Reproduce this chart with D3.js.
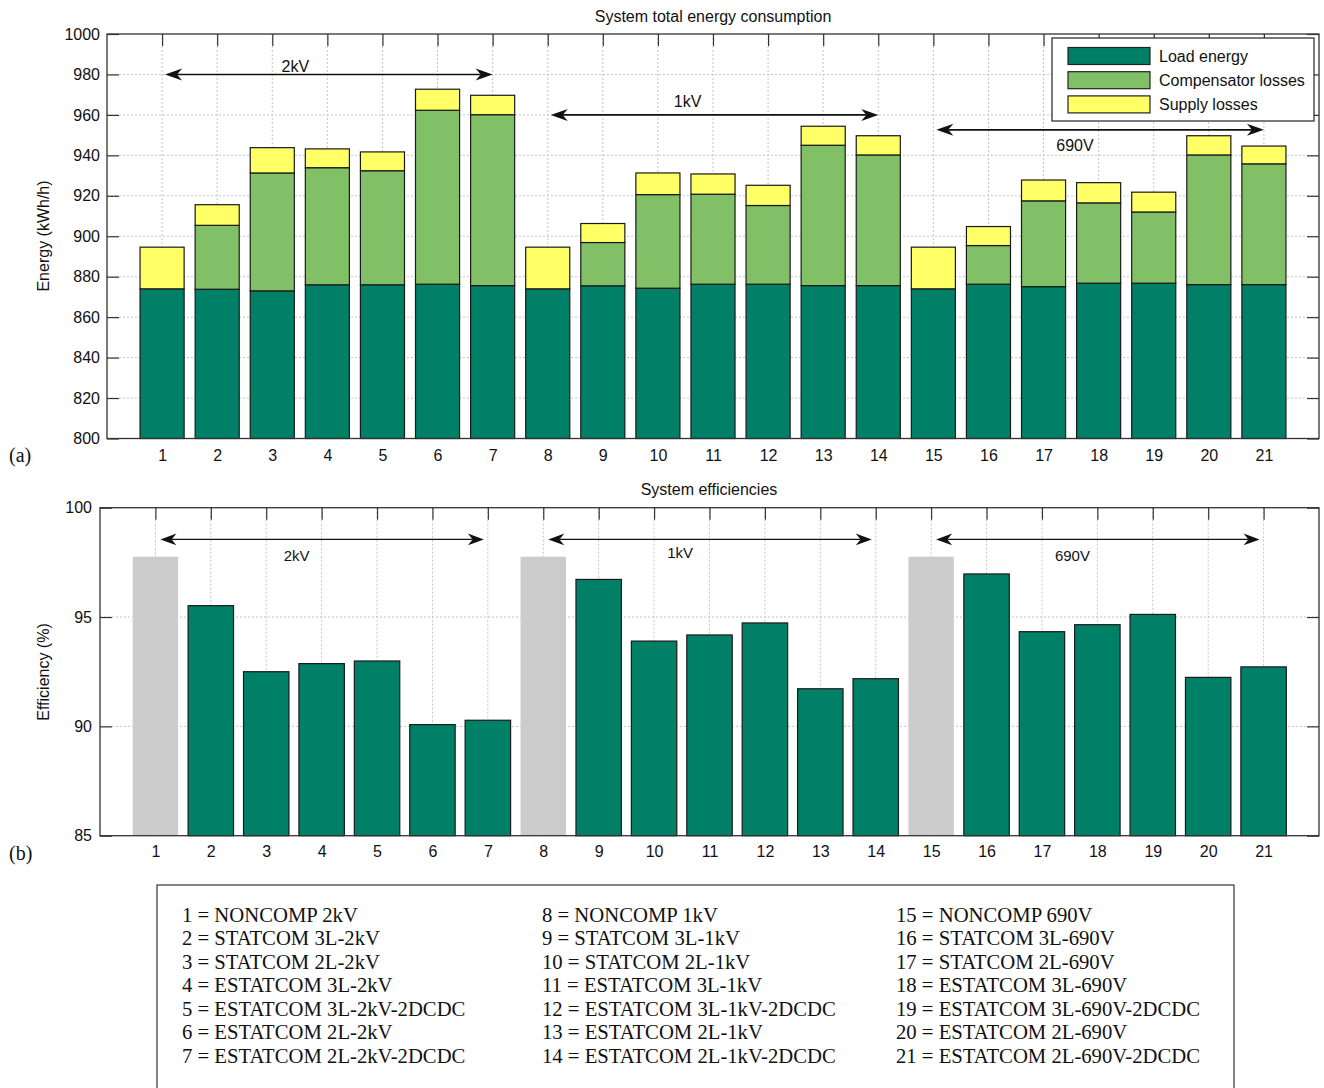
<!DOCTYPE html>
<html>
<head>
<meta charset="utf-8">
<script src="https://cdn.jsdelivr.net/npm/d3@7"></script>
<style>
body { margin: 0; background: #fff; }
svg text { font-family: "Liberation Sans", Arial, sans-serif; fill: #111; font-size: 16px; }
.grid line { stroke: #c4c4c4; stroke-dasharray: 2,2; stroke-width: 1; }
.frame { fill: none; stroke: #333; stroke-width: 1.3; }
.axis path { display: none; }
.axis line { stroke: #333; stroke-width: 1.2; }
.serif { font-family: "Liberation Serif", "Times New Roman", serif !important; }
</style>
</head>
<body>
<div id="chart"></div>
<script>

// ---- data ----
var cases = ["1","2","3","4","5","6","7","8","9","10","11","12","13","14","15","16","17","18","19","20","21"];

var loadEnergy   = [874.0, 873.8, 873.0, 876.0, 876.0, 876.3, 875.6, 874.0, 875.5, 874.3, 876.3,
                    876.3, 875.6, 875.6, 874.0, 876.3, 875.1, 876.8, 876.8, 876.1, 876.1];
var compLosses   = [0, 31.6, 58.3, 57.9, 56.4, 86.0, 84.5, 0, 21.4, 46.3, 44.5,
                    38.9, 69.4, 64.6, 0, 19.1, 42.4, 39.7, 35.2, 64.1, 59.7];
var supplyLosses = [20.6, 10.2, 12.5, 9.3, 9.3, 10.4, 9.6, 20.6, 9.4, 10.7, 10.0,
                    10.0, 9.4, 9.5, 20.6, 9.4, 10.3, 10.0, 9.8, 9.5, 8.8];

var efficiency   = [97.76, 95.52, 92.50, 92.87, 92.99, 90.08, 90.28, 97.76, 96.72, 93.90, 94.18,
                    94.73, 91.72, 92.18, 97.76, 96.97, 94.33, 94.65, 95.12, 92.24, 92.72];
var noncompCases = ["1", "8", "15"];

var seriesNames  = ["Load energy", "Compensator losses", "Supply losses"];
var seriesColors = ["#008066", "#82c068", "#ffff66"];

var groupNames = ["2kV", "1kV", "690V"];
var groupFirst = ["1", "8", "15"];
var groupLast  = ["7", "14", "21"];

var energyTicks = [800, 820, 840, 860, 880, 900, 920, 940, 960, 980, 1000];
var effTicks    = [85, 90, 95, 100];

var caseNames = [
  "1 = NONCOMP 2kV", "2 = STATCOM 3L-2kV", "3 = STATCOM 2L-2kV", "4 = ESTATCOM 3L-2kV",
  "5 = ESTATCOM 3L-2kV-2DCDC", "6 = ESTATCOM 2L-2kV", "7 = ESTATCOM 2L-2kV-2DCDC",
  "8 = NONCOMP 1kV", "9 = STATCOM 3L-1kV", "10 = STATCOM 2L-1kV", "11 = ESTATCOM 3L-1kV",
  "12 = ESTATCOM 3L-1kV-2DCDC", "13 = ESTATCOM 2L-1kV", "14 = ESTATCOM 2L-1kV-2DCDC",
  "15 = NONCOMP 690V", "16 = STATCOM 3L-690V", "17 = STATCOM 2L-690V", "18 = ESTATCOM 3L-690V",
  "19 = ESTATCOM 3L-690V-2DCDC", "20 = ESTATCOM 2L-690V", "21 = ESTATCOM 2L-690V-2DCDC"
];

// ---- setup ----
var w = 1324, h = 1088;
var svg = d3.select("#chart").append("svg")
    .attr("width", w)
    .attr("height", h);

var rows = cases.map(function(c, i) {
  return {case: c, load: loadEnergy[i], comp: compLosses[i], supply: supplyLosses[i], eff: efficiency[i]};
});

function pos(c) { return cases.indexOf(c) + 1; }

function arrow(g, xa, xb, y, len, half, sw) {
  var notch = len * 0.7;
  g.append("line")
      .attr("x1", xa + notch).attr("x2", xb - notch)
      .attr("y1", y).attr("y2", y)
      .attr("stroke", "#111").attr("stroke-width", sw);
  g.append("path")
      .attr("d", "M" + xa + "," + y + "L" + (xa + len) + "," + (y - half) + "L" + (xa + notch) + "," + y +
                 "L" + (xa + len) + "," + (y + half) + "Z")
      .attr("fill", "#111");
  g.append("path")
      .attr("d", "M" + xb + "," + y + "L" + (xb - len) + "," + (y - half) + "L" + (xb - notch) + "," + y +
                 "L" + (xb - len) + "," + (y + half) + "Z")
      .attr("fill", "#111");
}

function frameAxes(g, x, y, yTicks, padY, padX) {
  var x0 = x.range()[0], x1 = x.range()[1], y0 = y.range()[0], y1 = y.range()[1];

  var grid = g.append("g").attr("class", "grid");
  grid.selectAll("line.h").data(yTicks.slice(1, -1)).enter().append("line")
      .attr("x1", x0).attr("x2", x1)
      .attr("y1", function(d) { return y(d); }).attr("y2", function(d) { return y(d); });
  grid.selectAll("line.v").data(cases).enter().append("line")
      .attr("x1", function(d) { return x(pos(d)); }).attr("x2", function(d) { return x(pos(d)); })
      .attr("y1", y1).attr("y2", y0);

  var tv = cases.map(pos);

  g.append("g").attr("class", "axis").attr("transform", "translate(" + x0 + ",0)")
      .call(d3.axisLeft(y).tickValues(yTicks).tickSize(-12).tickPadding(padY).tickFormat(d3.format("d")))
      .selectAll("text").attr("fill", "#111");
  g.append("g").attr("class", "axis").attr("transform", "translate(" + x1 + ",0)")
      .call(d3.axisRight(y).tickValues(yTicks).tickSize(-12).tickFormat(""));
  g.append("g").attr("class", "axis").attr("transform", "translate(0," + y1 + ")")
      .call(d3.axisTop(x).tickValues(tv).tickSize(-12).tickFormat(""));
  g.append("g").attr("class", "axis").attr("transform", "translate(0," + y0 + ")")
      .call(d3.axisBottom(x).tickValues(tv).tickSize(-12).tickPadding(padX)
        .tickFormat(function(d) { return cases[d - 1]; }))
      .selectAll("text").attr("fill", "#111");
}

// ---- (a) energy ----
var xa = d3.scaleLinear().domain([0, 22]).range([107, 1319]);
var ya = d3.scaleLinear().domain([800, 1000]).range([438.5, 34]);
var ga = svg.append("g");
frameAxes(ga, xa, ya, energyTicks, 7, 11);

var stack = d3.stack().keys(["load", "comp", "supply"])(rows);
var bwA = (xa(1) - xa(0)) * 0.8;

ga.selectAll("g.layer").data(stack).enter().append("g")
    .attr("class", "layer")
    .attr("fill", function(d, i) { return seriesColors[i]; })
  .selectAll("rect").data(function(d) { return d.filter(function(e) { return e[1] - e[0] > 0; }); })
  .enter().append("rect")
    .attr("x", function(d) { return xa(pos(d.data.case)) - bwA / 2; })
    .attr("width", bwA)
    .attr("y", function(d) { return ya(d[1]); })
    .attr("height", function(d) { return ya(Math.max(d[0], 800)) - ya(d[1]); })
    .attr("stroke", "#1a1a1a").attr("stroke-width", 1.2);

ga.append("rect").attr("class", "frame")
    .attr("x", 107).attr("y", 34).attr("width", 1319 - 107).attr("height", 438.5 - 34);

// voltage group arrows
var arrowA = [980, 960, 952.6];
var labelAx = [3.42, 10.54, 17.57];
var labelAy = [984.2, 966.9, 945.1];
groupNames.forEach(function(n, i) {
  arrow(ga, xa(pos(groupFirst[i])) + 3, xa(pos(groupLast[i])), ya(arrowA[i]), 17, 6, 1.6);
  ga.append("text").attr("x", xa(labelAx[i])).attr("y", ya(labelAy[i]))
      .attr("text-anchor", "middle").attr("dy", "0.35em").text(n);
});

// legend
var lg = ga.append("g").attr("transform", "translate(1052,38)");
lg.append("rect").attr("width", 262).attr("height", 83)
    .attr("fill", "#fff").attr("stroke", "#222").attr("stroke-width", 1.2);
seriesNames.forEach(function(n, i) {
  lg.append("rect").attr("x", 16).attr("y", 9.5 + i * 24.2).attr("width", 82).attr("height", 17)
      .attr("fill", seriesColors[i]).attr("stroke", "#222").attr("stroke-width", 1.2);
  lg.append("text").attr("x", 107).attr("y", 18 + i * 24.2).attr("dy", "0.35em").text(n);
});

ga.append("text").attr("x", 713).attr("y", 16).attr("dy", "0.35em")
    .attr("text-anchor", "middle").text("System total energy consumption");
ga.append("text").attr("transform", "translate(43,236) rotate(-90)")
    .attr("text-anchor", "middle").attr("dy", "0.35em").text("Energy (kWh/h)");
ga.append("text").attr("class", "serif").attr("x", 9).attr("y", 462)
    .style("font-size", "20px").text("(a)");

// ---- (b) efficiency ----
var xb = d3.scaleLinear().domain([0, 22]).range([100, 1319]);
var yb = d3.scaleLinear().domain([85, 100]).range([835.7, 507.7]);
var gb = svg.append("g");
frameAxes(gb, xb, yb, effTicks, 8, 10);

var bwB = (xb(1) - xb(0)) * 0.82;
gb.selectAll("rect.bar").data(rows).enter().append("rect")
    .attr("class", "bar")
    .attr("x", function(d) { return xb(pos(d.case)) - bwB / 2; })
    .attr("width", bwB)
    .attr("y", function(d) { return yb(d.eff); })
    .attr("height", function(d) { return yb(85) - yb(d.eff); })
    .attr("fill", function(d) { return noncompCases.indexOf(d.case) >= 0 ? "#cccccc" : seriesColors[0]; })
    .attr("stroke", function(d) { return noncompCases.indexOf(d.case) >= 0 ? "none" : "#1a1a1a"; })
    .attr("stroke-width", 1.2);

gb.append("rect").attr("class", "frame")
    .attr("x", 100).attr("y", 507.7).attr("width", 1319 - 100).attr("height", 835.7 - 507.7);

var arrowB = 98.55;
var labelBx = [3.55, 10.47, 17.55];
var labelBy = [97.79, 97.93, 97.82];
groupNames.forEach(function(n, i) {
  arrow(gb, xb(pos(groupFirst[i])) + 5, xb(pos(groupLast[i])) - 4, yb(arrowB), 16, 5.8, 1.2);
  gb.append("text").attr("x", xb(labelBx[i])).attr("y", yb(labelBy[i]))
      .attr("text-anchor", "middle").attr("dy", "0.35em").style("font-size", "15px").text(n);
});

gb.append("text").attr("x", 709).attr("y", 489).attr("dy", "0.35em")
    .attr("text-anchor", "middle").text("System efficiencies");
gb.append("text").attr("transform", "translate(43,672) rotate(-90)")
    .attr("text-anchor", "middle").attr("dy", "0.35em").text("Efficiency (%)");
gb.append("text").attr("class", "serif").attr("x", 9).attr("y", 860)
    .style("font-size", "20px").text("(b)");

// ---- case key ----
var kg = svg.append("g");
kg.append("rect").attr("x", 157).attr("y", 885).attr("width", 1234 - 157).attr("height", 240)
    .attr("fill", "#fff").attr("stroke", "#333").attr("stroke-width", 1.2);
var colX = [182, 542, 896];
kg.selectAll("text").data(caseNames).enter().append("text")
    .attr("class", "serif")
    .style("font-size", "20.7px")
    .attr("x", function(d, i) { return colX[Math.floor(i / 7)]; })
    .attr("y", function(d, i) { return 921.5 + (i % 7) * 23.5; })
    .text(function(d) { return d; });

</script>
</body>
</html>
